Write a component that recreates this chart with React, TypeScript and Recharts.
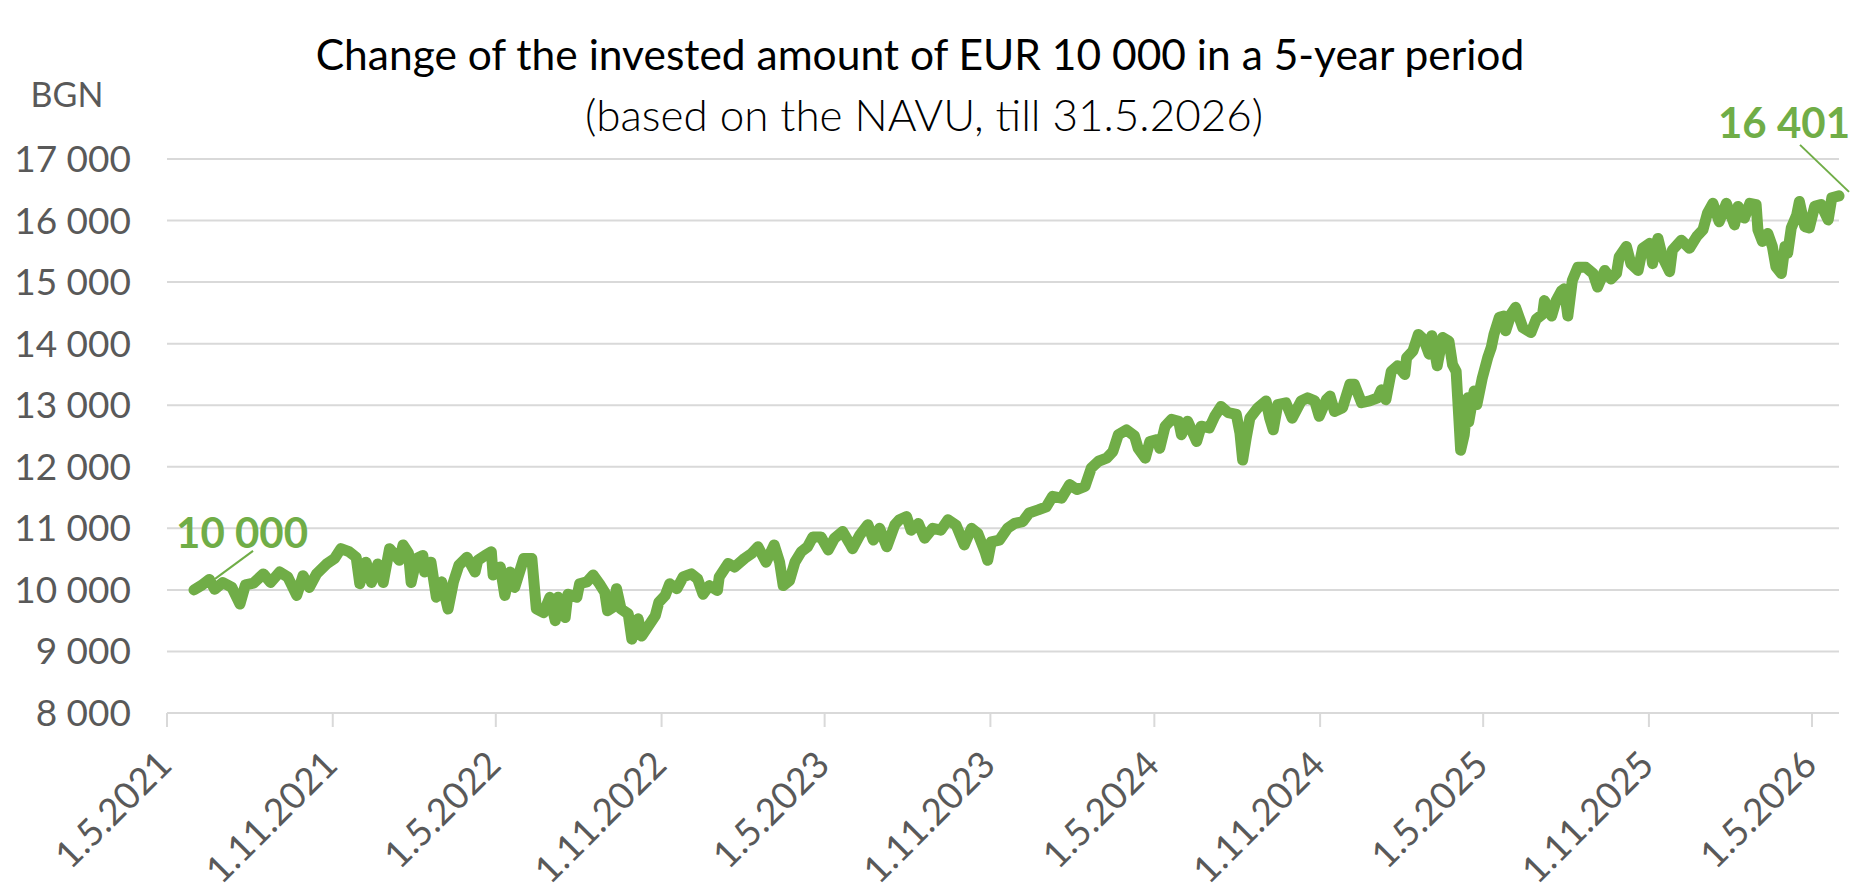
import { LineChart, Line, XAxis, YAxis, CartesianGrid } from "recharts";

// NAVU-based value of EUR 10 000 invested on 31.5.2021
const dates: string[] = [
  "2021-05-31", "2021-06-08", "2021-06-17", "2021-06-23", "2021-07-02", "2021-07-12", "2021-07-21", "2021-07-27",
  "2021-08-05", "2021-08-16", "2021-08-24", "2021-09-03", "2021-09-12", "2021-09-22", "2021-09-29", "2021-10-06",
  "2021-10-14", "2021-10-25", "2021-11-03", "2021-11-10", "2021-11-19", "2021-11-27", "2021-12-01", "2021-12-08",
  "2021-12-14", "2021-12-21", "2021-12-27",
  "2022-01-03", "2022-01-14", "2022-01-18", "2022-01-24", "2022-01-27", "2022-02-02", "2022-02-09", "2022-02-11",
  "2022-02-18", "2022-02-24", "2022-03-02", "2022-03-09", "2022-03-15", "2022-03-21", "2022-03-30", "2022-04-08",
  "2022-04-11", "2022-04-19", "2022-04-26", "2022-04-28", "2022-05-06", "2022-05-11", "2022-05-17", "2022-05-22",
  "2022-06-01", "2022-06-10", "2022-06-15", "2022-06-23", "2022-06-30", "2022-07-06", "2022-07-09", "2022-07-17",
  "2022-07-20", "2022-07-30", "2022-08-02", "2022-08-10", "2022-08-17", "2022-08-24", "2022-08-30", "2022-09-02",
  "2022-09-08", "2022-09-12", "2022-09-17", "2022-09-25", "2022-09-29", "2022-10-06", "2022-10-10", "2022-10-15",
  "2022-10-25", "2022-10-29", "2022-11-05", "2022-11-10", "2022-11-18", "2022-11-25", "2022-12-04", "2022-12-11",
  "2022-12-17", "2022-12-24",
  "2023-01-02", "2023-01-04", "2023-01-14", "2023-01-21", "2023-02-01", "2023-02-09", "2023-02-16", "2023-02-25",
  "2023-03-06", "2023-03-12", "2023-03-16", "2023-03-23", "2023-03-29", "2023-04-05", "2023-04-12", "2023-04-18",
  "2023-04-27", "2023-05-05", "2023-05-12", "2023-05-21", "2023-05-29", "2023-06-01", "2023-06-09", "2023-06-18",
  "2023-06-24", "2023-07-01", "2023-07-09", "2023-07-18", "2023-07-23", "2023-07-31", "2023-08-05", "2023-08-13",
  "2023-08-20", "2023-08-29", "2023-09-07", "2023-09-15", "2023-09-24", "2023-10-03", "2023-10-11", "2023-10-18",
  "2023-10-26", "2023-10-29", "2023-11-02", "2023-11-11", "2023-11-20", "2023-11-28", "2023-12-07", "2023-12-14",
  "2023-12-24",
  "2024-01-02", "2024-01-09", "2024-01-19", "2024-01-28", "2024-02-05", "2024-02-14", "2024-02-21", "2024-02-29",
  "2024-03-09", "2024-03-16", "2024-03-22", "2024-03-31", "2024-04-09", "2024-04-13", "2024-04-21", "2024-04-26",
  "2024-05-04", "2024-05-07", "2024-05-13", "2024-05-20", "2024-05-28", "2024-05-31", "2024-06-07", "2024-06-17",
  "2024-06-22", "2024-07-01", "2024-07-07", "2024-07-14", "2024-07-22", "2024-07-31", "2024-08-04", "2024-08-07",
  "2024-08-11", "2024-08-15", "2024-08-24", "2024-09-02", "2024-09-06", "2024-09-10", "2024-09-15", "2024-09-24",
  "2024-10-01", "2024-10-11", "2024-10-18", "2024-10-26", "2024-10-31", "2024-11-08", "2024-11-12", "2024-11-17",
  "2024-11-26", "2024-12-04", "2024-12-09", "2024-12-17", "2024-12-26",
  "2025-01-04", "2025-01-08", "2025-01-13", "2025-01-19", "2025-01-26", "2025-02-03", "2025-02-05", "2025-02-12",
  "2025-02-18", "2025-02-24", "2025-03-02", "2025-03-05", "2025-03-11", "2025-03-17", "2025-03-24", "2025-03-28",
  "2025-04-01", "2025-04-04", "2025-04-06", "2025-04-10", "2025-04-14", "2025-04-15", "2025-04-21", "2025-04-24",
  "2025-04-30", "2025-05-06", "2025-05-10", "2025-05-13", "2025-05-19", "2025-05-24", "2025-05-26", "2025-06-01",
  "2025-06-06", "2025-06-14", "2025-06-23", "2025-06-29", "2025-07-06", "2025-07-08", "2025-07-16", "2025-07-21",
  "2025-07-27", "2025-07-30", "2025-08-03", "2025-08-08", "2025-08-14", "2025-08-23", "2025-08-31", "2025-09-05",
  "2025-09-13", "2025-09-20", "2025-09-26", "2025-09-29", "2025-10-07", "2025-10-12", "2025-10-20", "2025-10-25",
  "2025-11-02", "2025-11-05", "2025-11-11", "2025-11-16", "2025-11-24", "2025-11-27", "2025-12-07", "2025-12-16",
  "2025-12-24", "2025-12-31",
  "2026-01-05", "2026-01-11", "2026-01-18", "2026-01-26", "2026-02-04", "2026-02-08", "2026-02-15", "2026-02-21",
  "2026-02-28", "2026-03-02", "2026-03-07", "2026-03-13", "2026-03-18", "2026-03-22", "2026-03-28", "2026-04-01",
  "2026-04-04", "2026-04-08", "2026-04-14", "2026-04-17", "2026-04-23", "2026-04-28", "2026-05-04", "2026-05-11",
  "2026-05-19", "2026-05-23", "2026-05-31",
];

const navu: number[] = [
  10000, 10070, 10170, 10010, 10120, 10040, 9770, 10080,
  10110, 10260, 10120, 10290, 10210, 9910, 10230, 10040,
  10260, 10420, 10510, 10670, 10620, 10530, 10100, 10450,
  10120, 10420, 10120,
  10670, 10480, 10730, 10600, 10120, 10510, 10560, 10290,
  10450, 9880, 10130, 9690, 10130, 10400, 10530, 10290,
  10480, 10560, 10620, 10240, 10370, 9910, 10290, 10040,
  10510, 10510, 9690, 9630, 9880, 9500, 9880, 9550,
  9930, 9880, 10100, 10130, 10240, 10100, 9960, 9660,
  9720, 10020, 9690, 9610, 9200, 9530, 9250, 9360,
  9580, 9800, 9910, 10100, 10020, 10210, 10260, 10180,
  9930, 10070,
  9990, 10210, 10430, 10370, 10510, 10590, 10700, 10450,
  10730, 10450, 10070, 10150, 10450, 10620, 10700, 10860,
  10860, 10650, 10840, 10950, 10750, 10670, 10890, 11060,
  10810, 11000, 10700, 11060, 11140, 11190, 10970, 11080,
  10840, 11000, 10970, 11140, 11050, 10730, 11000, 10920,
  10620, 10480, 10780, 10810, 11000, 11080, 11110, 11250,
  11300,
  11350, 11520, 11490, 11710, 11630, 11680, 11980, 12090,
  12140, 12250, 12520, 12600, 12500, 12300, 12140, 12410,
  12440, 12300, 12660, 12770, 12740, 12520, 12740, 12410,
  12660, 12630, 12820, 12980, 12880, 12850, 12550, 12110,
  12470, 12790, 12960, 13070, 12790, 12600, 13010, 13040,
  12790, 13070, 13120, 13070, 12820, 13090, 13150, 12900,
  12960, 13340, 13340, 13040, 13070,
  13120, 13250, 13090, 13550, 13640, 13500, 13770, 13880,
  14150, 14070, 13830, 14130, 13640, 14100, 14040, 13660,
  13550, 12790, 12270, 12520, 13120, 12730, 13230, 13010,
  13440, 13770, 13940, 14150, 14430, 14450, 14210, 14480,
  14590, 14260, 14180, 14400, 14480, 14700, 14450, 14700,
  14860, 14890, 14450, 15030, 15240, 15240, 15140, 14920,
  15190, 15050, 15140, 15410, 15580, 15300, 15190, 15550,
  15630, 15300, 15710, 15410, 15170, 15520, 15680, 15550,
  15740, 15850,
  16120, 16280, 15980, 16280, 15930, 16230, 16040, 16280,
  16260, 15850, 15660, 15790, 15580, 15250, 15140, 15580,
  15470, 15880, 16090, 16310, 15900, 15880, 16230, 16260,
  16010, 16370, 16401,
];

const xTickLabels = [
  "1.5.2021", "1.11.2021", "1.5.2022", "1.11.2022", "1.5.2023", "1.11.2023",
  "1.5.2024", "1.11.2024", "1.5.2025", "1.11.2025", "1.5.2026",
];
const xRange = ["1.5.2021", "31.5.2026"];
const yTicks = [8000, 9000, 10000, 11000, 12000, 13000, 14000, 15000, 16000, 17000];

const title = "Change of the invested amount of EUR 10 000 in a 5-year period";
const subtitle = "(based on the NAVU, till 31.5.2026)";
const unit = "BGN";

const GREEN = "#70AD47";
const GRID = "#D9D9D9";
const GREY = "#595959";
const FONT = "Lato, 'Noto Sans', sans-serif";

const fromIso = (s: string) => Date.parse(s + "T00:00:00Z");
const fromDmy = (s: string) => {
  const [d, m, y] = s.split(".").map(Number);
  return Date.UTC(y, m - 1, d);
};
const fmtNum = (v: number) => String(v).replace(/\B(?=(\d{3})+(?!\d))/g, " ");
const fmtDate = (t: number) => {
  const d = new Date(t);
  return `${d.getUTCDate()}.${d.getUTCMonth() + 1}.${d.getUTCFullYear()}`;
};

const data = dates.map((d, i) => ({ t: fromIso(d), value: navu[i] }));
const xTicks = xTickLabels.map(fromDmy);
const xDomain = xRange.map(fromDmy);

const YTick = (props: any) => {
  const { x, y, payload } = props;
  return (
    <text x={x} y={y + 13} textAnchor="end" fill={GREY} fontSize={37} fontFamily={FONT}>
      {fmtNum(payload.value)}
    </text>
  );
};

const XTick = (props: any) => {
  const { x, y, payload } = props;
  const ax = x + 7;
  const ay = y + 38;
  return (
    <text
      x={ax}
      y={ay}
      textAnchor="end"
      transform={`rotate(-45 ${ax} ${ay})`}
      fill={GREY}
      fontSize={37}
      fontFamily={FONT}
    >
      {fmtDate(payload.value)}
    </text>
  );
};

// value labels with leader lines on the first and last point
const endLabel = (props: any) => {
  const { cx, cy, index, payload } = props;
  if (index === 0) {
    return (
      <g key="first">
        <line x1={cx + 21} y1={cy - 11} x2={cx + 59} y2={cy - 39} stroke={GREEN} strokeWidth={2} />
        <text x={cx + 48} y={cy - 42} textAnchor="middle" fill={GREEN} fontSize={42} fontWeight={700} fontFamily={FONT}>
          {fmtNum(payload.value)}
        </text>
      </g>
    );
  }
  if (index === data.length - 1) {
    return (
      <g key="last">
        <line x1={cx - 39} y1={cy - 51} x2={cx + 10} y2={cy - 4} stroke={GREEN} strokeWidth={2} />
        <text x={cx - 55} y={cy - 58} textAnchor="middle" fill={GREEN} fontSize={42} fontWeight={700} fontFamily={FONT}>
          {fmtNum(payload.value)}
        </text>
      </g>
    );
  }
  return <g key={`d${index}`} />;
};

export default function App() {
  return (
    <div style={{ position: "absolute", left: 0, top: 0, width: 1873, height: 883, background: "#fff" }}>
      <LineChart
        width={1873}
        height={883}
        data={data}
        margin={{ top: 159, right: 34, bottom: 0, left: 0 }}
        style={{ fontFamily: FONT }}
      >
        <CartesianGrid vertical={false} stroke={GRID} strokeWidth={2} />
        <XAxis
          type="number"
          dataKey="t"
          domain={xDomain}
          ticks={xTicks}
          interval={0}
          height={170}
          axisLine={{ stroke: GRID, strokeWidth: 2 }}
          tickLine={{ stroke: GRID, strokeWidth: 2 }}
          tickSize={14}
          tickMargin={2}
          tick={<XTick />}
        />
        <YAxis
          type="number"
          domain={[8000, 17000]}
          ticks={yTicks}
          interval={0}
          width={167}
          axisLine={false}
          tickLine={false}
          tickSize={0}
          tickMargin={36}
          tick={<YTick />}
        />
        <Line
          type="linear"
          dataKey="value"
          stroke={GREEN}
          strokeWidth={11}
          strokeLinejoin="round"
          strokeLinecap="round"
          dot={endLabel}
          activeDot={false}
          isAnimationActive={false}
        />
      </LineChart>
      <svg
        width={1873}
        height={883}
        style={{ position: "absolute", left: 0, top: 0, pointerEvents: "none" }}
        fontFamily={FONT}
      >
        <text x={920} y={70} textAnchor="middle" fontSize={42.5} fill="#000">
          {title}
        </text>
        <text x={924} y={131} textAnchor="middle" fontSize={44} fontWeight={300} fill="#000">
          {subtitle}
        </text>
        <text x={67} y={107} textAnchor="middle" fontSize={34} fill={GREY}>
          {unit}
        </text>
      </svg>
    </div>
  );
}
